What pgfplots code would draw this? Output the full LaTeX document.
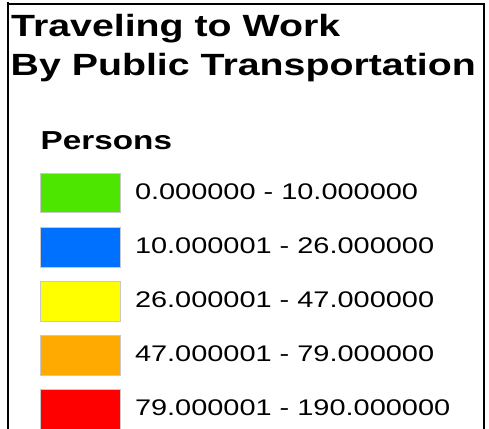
\documentclass[border=0pt]{standalone}
\usepackage{pgfplots}
\pgfplotsset{compat=1.18}
\usepackage{fontspec}
\setmainfont{Liberation Sans}[FakeStretch=1.28]

\definecolor{clsA}{RGB}{76,230,0}
\definecolor{clsB}{RGB}{0,112,255}
\definecolor{clsC}{RGB}{255,255,0}
\definecolor{clsD}{RGB}{255,170,0}
\definecolor{clsE}{RGB}{255,0,0}
\definecolor{edge}{RGB}{200,200,200}

\begin{document}
\begin{tikzpicture}
\begin{axis}[
    scale only axis,
    width=489pt, height=428pt,
    xmin=0, xmax=489,
    ymin=0, ymax=428,
    y dir=reverse,
    hide axis,
]
% legend frame
\draw[black, line width=2pt] (axis cs:8,4) -- (axis cs:484,4) -- (axis cs:484,440);
\draw[black, line width=2pt] (axis cs:8,2) -- (axis cs:8,440);

% titles
\node[anchor=base west, inner sep=0pt] at (axis cs:11,37)
    {\fontsize{30.7}{36}\selectfont\bfseries Traveling to Work};
\node[anchor=base west, inner sep=0pt] at (axis cs:10.5,75)
    {\fontsize{30.7}{36}\selectfont\bfseries By Public Transportation};
\node[anchor=base west, inner sep=0pt] at (axis cs:40.5,149.3)
    {\fontsize{26}{30}\selectfont\bfseries Persons};

% class swatches
\addplot[fill=clsA, draw=edge, line width=0.8pt] coordinates {(40.7,173.3)(120,173.3)(120,212.3)(40.7,212.3)} -- cycle;
\addplot[fill=clsB, draw=edge, line width=0.8pt] coordinates {(40.7,227.7)(120,227.7)(120,266.9)(40.7,266.9)} -- cycle;
\addplot[fill=clsC, draw=edge, line width=0.8pt] coordinates {(40.7,281.7)(120,281.7)(120,321.2)(40.7,321.2)} -- cycle;
\addplot[fill=clsD, draw=edge, line width=0.8pt] coordinates {(40.7,335.2)(120,335.2)(120,375.4)(40.7,375.4)} -- cycle;
\addplot[fill=clsE, draw=edge, line width=0.8pt] coordinates {(40.7,389.3)(120,389.3)(120,429.5)(40.7,429.5)} -- cycle;

% class labels
\node[anchor=base west, inner sep=0pt] at (axis cs:134.8,199.3)
    {\fontsize{22.6}{26}\selectfont 0.000000 - 10.000000};
\node[anchor=base west, inner sep=0pt] at (axis cs:134.8,253.6)
    {\fontsize{22.6}{26}\selectfont 10.000001 - 26.000000};
\node[anchor=base west, inner sep=0pt] at (axis cs:134.8,307.8)
    {\fontsize{22.6}{26}\selectfont 26.000001 - 47.000000};
\node[anchor=base west, inner sep=0pt] at (axis cs:134.8,361.6)
    {\fontsize{22.6}{26}\selectfont 47.000001 - 79.000000};
\node[anchor=base west, inner sep=0pt] at (axis cs:134.8,415.6)
    {\fontsize{22.6}{26}\selectfont 79.000001 - 190.000000};
\end{axis}
\pgfresetboundingbox
\useasboundingbox (0,0) rectangle (489pt,428pt);
\end{tikzpicture}
\end{document}
